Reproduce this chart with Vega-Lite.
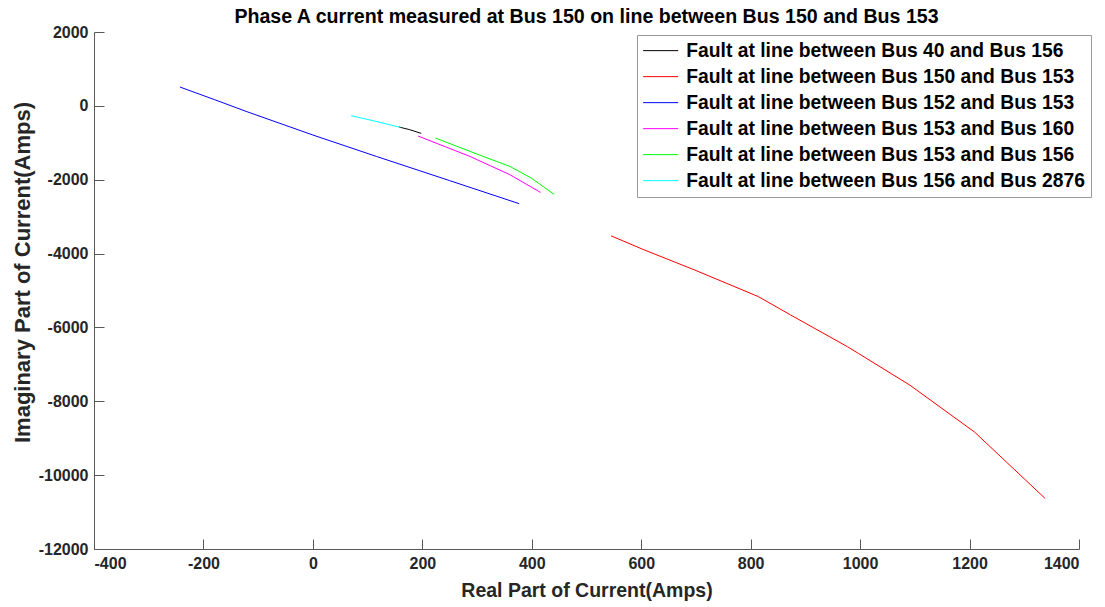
{
  "$schema": "https://vega.github.io/schema/vega-lite/v6.json",
  "autosize": {"type": "none"},
  "width": 985,
  "height": 517,
  "padding": {"left": 94, "top": 32, "right": 26, "bottom": 58},
  "background": "white",
  "title": {
    "text": "Phase A current measured at Bus 150 on line between Bus 150 and Bus 153",
    "font": "Liberation Sans",
    "fontSize": 19.6,
    "fontWeight": "bold",
    "color": "#000000",
    "anchor": "middle",
    "frame": "group",
    "baseline": "alphabetic",
    "offset": 8,
    "dy": 27
  },
  "config": {
    "view": {"stroke": null},
    "axis": {
      "grid": false,
      "domainColor": "#595959",
      "tickColor": "#595959",
      "tickSize": -10,
      "labelFont": "Liberation Sans",
      "labelFontWeight": "bold",
      "labelFontSize": 16,
      "labelColor": "#262626",
      "titleFont": "Liberation Sans",
      "titleFontWeight": "bold",
      "titleColor": "#262626"
    }
  },
  "data": {
    "values": [
      {"series": "Fault at line between Bus 40 and Bus 156", "i": 0, "x": 157, "y": -572},
      {"series": "Fault at line between Bus 40 and Bus 156", "i": 1, "x": 177, "y": -645},
      {"series": "Fault at line between Bus 40 and Bus 156", "i": 2, "x": 198, "y": -746},
      {"series": "Fault at line between Bus 150 and Bus 153", "i": 0, "x": 545, "y": -3520},
      {"series": "Fault at line between Bus 150 and Bus 153", "i": 1, "x": 605, "y": -3898},
      {"series": "Fault at line between Bus 150 and Bus 153", "i": 2, "x": 697, "y": -4441},
      {"series": "Fault at line between Bus 150 and Bus 153", "i": 3, "x": 814, "y": -5165},
      {"series": "Fault at line between Bus 150 and Bus 153", "i": 4, "x": 873, "y": -5663},
      {"series": "Fault at line between Bus 150 and Bus 153", "i": 5, "x": 977, "y": -6523},
      {"series": "Fault at line between Bus 150 and Bus 153", "i": 6, "x": 997, "y": -6704},
      {"series": "Fault at line between Bus 150 and Bus 153", "i": 7, "x": 1091, "y": -7564},
      {"series": "Fault at line between Bus 150 and Bus 153", "i": 8, "x": 1209, "y": -8832},
      {"series": "Fault at line between Bus 150 and Bus 153", "i": 9, "x": 1338, "y": -10630},
      {"series": "Fault at line between Bus 152 and Bus 153", "i": 0, "x": -243, "y": 510},
      {"series": "Fault at line between Bus 152 and Bus 153", "i": 1, "x": -180, "y": 170},
      {"series": "Fault at line between Bus 152 and Bus 153", "i": 2, "x": -122, "y": -150},
      {"series": "Fault at line between Bus 152 and Bus 153", "i": 3, "x": 0, "y": -790},
      {"series": "Fault at line between Bus 152 and Bus 153", "i": 4, "x": 116, "y": -1369},
      {"series": "Fault at line between Bus 152 and Bus 153", "i": 5, "x": 250, "y": -2025},
      {"series": "Fault at line between Bus 152 and Bus 153", "i": 6, "x": 377, "y": -2649},
      {"series": "Fault at line between Bus 153 and Bus 160", "i": 0, "x": 192, "y": -816},
      {"series": "Fault at line between Bus 153 and Bus 160", "i": 1, "x": 287, "y": -1369},
      {"series": "Fault at line between Bus 153 and Bus 160", "i": 2, "x": 360, "y": -1864},
      {"series": "Fault at line between Bus 153 and Bus 160", "i": 3, "x": 416, "y": -2343},
      {"series": "Fault at line between Bus 153 and Bus 156", "i": 0, "x": 224, "y": -871},
      {"series": "Fault at line between Bus 153 and Bus 156", "i": 1, "x": 311, "y": -1369},
      {"series": "Fault at line between Bus 153 and Bus 156", "i": 2, "x": 360, "y": -1640},
      {"series": "Fault at line between Bus 153 and Bus 156", "i": 3, "x": 399, "y": -1955},
      {"series": "Fault at line between Bus 153 and Bus 156", "i": 4, "x": 441, "y": -2398},
      {"series": "Fault at line between Bus 156 and Bus 2876", "i": 0, "x": 70, "y": -266},
      {"series": "Fault at line between Bus 156 and Bus 2876", "i": 1, "x": 115, "y": -420},
      {"series": "Fault at line between Bus 156 and Bus 2876", "i": 2, "x": 160, "y": -583}
    ]
  },
  "mark": {"type": "line", "strokeWidth": 1, "interpolate": "linear"},
  "encoding": {
    "x": {
      "field": "x",
      "type": "quantitative",
      "scale": {"domain": [-400, 1400], "nice": false, "zero": false},
      "axis": {"values": [-400, -200, 0, 200, 400, 600, 800, 1000, 1200, 1400], "title": "Real Part of Current(Amps)", "titleFontSize": 19.5, "labelPadding": 16, "titlePadding": 10, "labelExpr": "'' + datum.value"}
    },
    "y": {
      "field": "y",
      "type": "quantitative",
      "scale": {"domain": [-12000, 2000], "nice": false, "zero": false},
      "axis": {"values": [-12000, -10000, -8000, -6000, -4000, -2000, 0, 2000], "title": "Imaginary Part of Current(Amps)", "titleFontSize": 22, "labelPadding": 16, "titleX": -72, "titleY": 240, "titleBaseline": "middle", "labelExpr": "'' + datum.value"}
    },
    "order": {"field": "i", "type": "quantitative"},
    "color": {
      "field": "series",
      "type": "nominal",
      "scale": {
        "domain": [
          "Fault at line between Bus 40 and Bus 156",
          "Fault at line between Bus 150 and Bus 153",
          "Fault at line between Bus 152 and Bus 153",
          "Fault at line between Bus 153 and Bus 160",
          "Fault at line between Bus 153 and Bus 156",
          "Fault at line between Bus 156 and Bus 2876"
        ],
        "range": ["#000000", "#ff0000", "#0000ff", "#ff00ff", "#00ff00", "#00ffff"]
      },
      "legend": {
        "title": null,
        "orient": "none",
        "legendX": 543,
        "legendY": 3,
        "fillColor": "white",
        "strokeColor": "#999999",
        "padding": 6,
        "symbolType": "M-2.5,0H2.5",
        "symbolSize": 196,
        "symbolOffset": 8,
        "symbolStrokeWidth": 1,
        "labelFont": "Liberation Sans",
        "labelFontWeight": "bold",
        "labelFontSize": 19.3,
        "labelColor": "#000000",
        "labelLimit": 500,
        "rowPadding": 6,
        "labelOffset": 16
      }
    }
  }
}
